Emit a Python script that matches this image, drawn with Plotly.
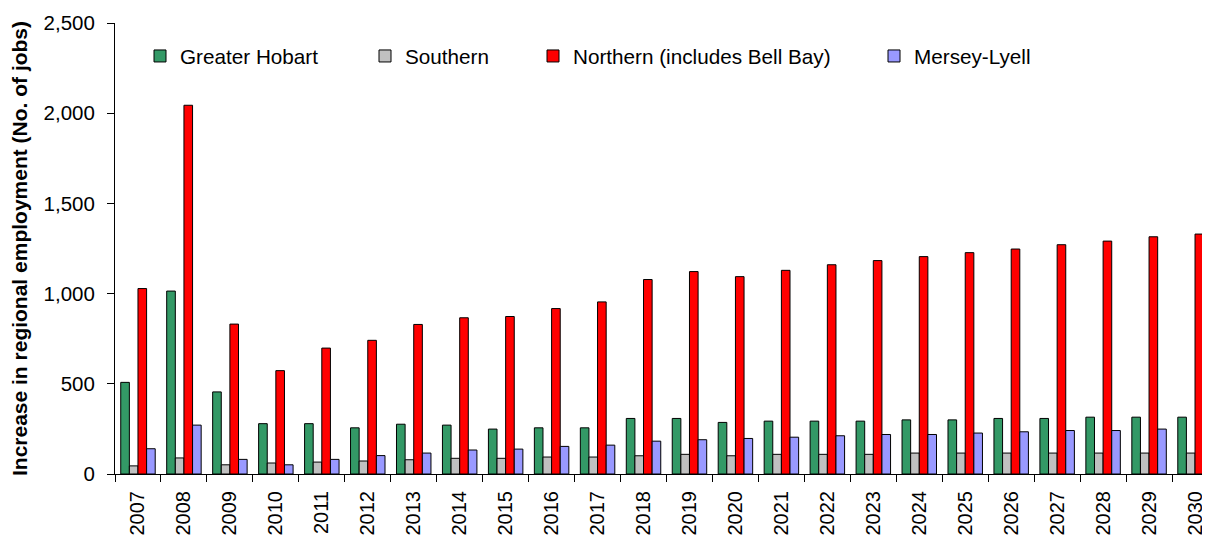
import plotly.graph_objects as go

years = [str(y) for y in range(2007, 2031)]
greater_hobart = [508, 1014, 455, 279, 279, 256, 276, 271, 249, 256, 256, 308,
                  308, 286, 293, 293, 293, 300, 300, 308, 308, 315, 315, 315]
southern = [45, 89, 51, 61, 66, 72, 79, 87, 87, 94, 94, 101,
            109, 101, 109, 109, 109, 116, 116, 116, 116, 116, 116, 116]
northern = [1028, 2044, 831, 573, 698, 741, 829, 866, 873, 917, 954, 1078,
            1122, 1094, 1129, 1160, 1183, 1205, 1227, 1247, 1271, 1291, 1315, 1330]
mersey_lyell = [140, 271, 81, 51, 81, 102, 116, 133, 138, 153, 160, 182,
                190, 197, 204, 212, 219, 219, 227, 234, 241, 241, 249, 249]

series = [
    ("Greater Hobart", greater_hobart, "#339966", "legend"),
    ("Southern", southern, "#C0C0C0", "legend2"),
    ("Northern (includes Bell Bay)", northern, "#FF0000", "legend3"),
    ("Mersey-Lyell", mersey_lyell, "#9999FF", "legend4"),
]

FONT = "Arial, 'Liberation Sans', sans-serif"
W, H = 1210, 538
L, R, T, B = 107, 0, 15, 72
PW, PH = W - L - R, H - T - B

fig = go.Figure()
for name, vals, color, leg in series:
    fig.add_trace(go.Bar(
        x=years, y=vals, name=name, legend=leg,
        marker=dict(color=color, line=dict(color="#000000", width=1)),
    ))

# legend text start positions (page pixels)
text_starts = [181, 406, 574, 915]
legend_common = dict(
    orientation="h", xref="paper", yref="paper",
    xanchor="left", yanchor="middle", y=(H - B - 48) / PH,
    bgcolor="rgba(0,0,0,0)", borderwidth=0,
    font=dict(family=FONT, size=20.7, color="#000000"),
)
legs = {}
for key, ts in zip(["legend", "legend2", "legend3", "legend4"], text_starts):
    legs[key] = dict(legend_common, x=(ts - 49 - L) / PW)

fig.update_layout(
    width=W, height=H,
    margin=dict(l=L, r=R, t=T, b=B, autoexpand=False),
    paper_bgcolor="white", plot_bgcolor="white",
    barmode="group", bargap=0.25, bargroupgap=0,
    font=dict(family=FONT, size=20, color="#000000"),
    showlegend=True,
    **legs,
)
fig.update_xaxes(
    type="category", range=[-0.5, 23.5], automargin=False,
    showline=True, linecolor="#000000", linewidth=1,
    ticks="outside", tickson="boundaries", ticklen=7, tickcolor="#000000",
    tickangle=-90, showgrid=False, zeroline=False, ticklabelstandoff=8,
    tickfont=dict(family=FONT, size=20),
)
fig.update_yaxes(
    range=[0, 2500], dtick=500, tickformat=",d", automargin=False,
    showline=True, linecolor="#000000", linewidth=1,
    ticks="outside", ticklen=7, tickcolor="#000000", ticklabelstandoff=8,
    showgrid=False, zeroline=False,
    tickfont=dict(family=FONT, size=20.5),
    title=dict(text="<b>Increase in regional employment (No. of jobs)</b>",
               font=dict(family=FONT, size=21), standoff=20),
)

fig.write_html("out.html")
